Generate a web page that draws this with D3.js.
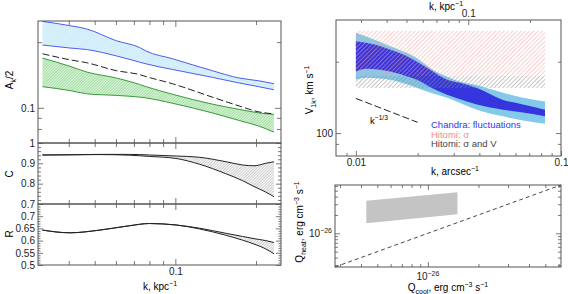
<!DOCTYPE html>
<html><head><meta charset="utf-8">
<script src="https://cdn.jsdelivr.net/npm/d3@7"></script>
<style>
body{margin:0;background:#fff}
text{font-family:"Liberation Sans",Arial,sans-serif}
</style>
</head><body><script>
// ---- left column: amplitude, coherence, ratio vs k (kpc^-1)
let kA = [0.0319, 0.0404, 0.0466, 0.0602, 0.0735, 0.0778, 0.0974, 0.1373, 0.173, 0.205, 0.2333];
let blueHi = [0.249, 0.238, 0.230, 0.203, 0.189, 0.182, 0.168, 0.148, 0.137, 0.133, 0.129];
let blueLo = [0.194, 0.188, 0.185, 0.173, 0.162, 0.159, 0.150, 0.138, 0.130, 0.125, 0.121];
let dashA = [0.177, 0.166, 0.161, 0.148, 0.142, 0.139, 0.129, 0.112, 0.102, 0.0958, 0.0938];
let greenHi = [0.169, 0.155, 0.146, 0.137, 0.128, 0.125, 0.1155, 0.104, 0.0984, 0.0948, 0.0933];
let greenLo = [0.125, 0.120, 0.116, 0.114, 0.112, 0.111, 0.105, 0.0948, 0.0875, 0.0825, 0.0774];

let kC = [0.0319, 0.0404, 0.0522, 0.0675, 0.080, 0.1006, 0.1228, 0.1543, 0.178, 0.1966, 0.2175, 0.2334];
let cHi = [0.941, 0.942, 0.944, 0.944, 0.941, 0.936, 0.930, 0.908, 0.892, 0.888, 0.900, 0.908];
let cLo = [0.941, 0.942, 0.943, 0.940, 0.934, 0.924, 0.896, 0.849, 0.815, 0.786, 0.759, 0.736];
let rHi = [0.643, 0.632, 0.643, 0.661, 0.670, 0.664, 0.651, 0.630, 0.617, 0.608, 0.600, 0.592];
let rLo = [0.643, 0.632, 0.643, 0.661, 0.670, 0.664, 0.648, 0.622, 0.602, 0.586, 0.566, 0.546];

// ---- right top: velocity vs k (arcsec^-1)
let kV = [0.0100, 0.01132, 0.01309, 0.01465, 0.01834, 0.01985, 0.02375, 0.02779, 0.03216, 0.03892, 0.05213, 0.06526, 0.08356];
let lightHi = [265, 255, 243, 233, 215, 207, 185, 173, 165, 159, 148, 141, 136];
let lightLo = [168, 171, 170, 168, 159, 155, 147, 141, 134, 125.5, 117.6, 113, 109.5];
let darkHi = [244, 240, 233, 225, 208, 200, 182, 168, 163, 155, 138, 132, 125.5];
let darkLo = [182, 187, 185, 182, 172, 168, 154, 145, 139, 132, 125.5, 122, 117.6];
let hitomiK = [0.01, 0.0836];
let hitomiSigma = [174, 270];
let hitomiSigmaV = [155, 174];
let slopeK = [0.01, 0.02];
let slopeV = [140, 111];
let kpcPerArcsec = 0.353;

// ---- right bottom: heating vs cooling
let qCool = [0.43e-26, 1.5e-26];
let qHeatHi = [3.42e-26, 4.70e-26];
let qHeatLo = [1.46e-26, 2.05e-26];
let eqLine = [0.28e-26, 6.2e-26];

let svg = d3.select('body').append('svg').attr('width', 568).attr('height', 294);
let defs = svg.append('defs');

function hatch(id, bg, col, size, w) {
  let p = defs.append('pattern').attr('id', id).attr('patternUnits', 'userSpaceOnUse')
    .attr('width', size).attr('height', size).attr('patternTransform', 'rotate(45)');
  if (bg) p.append('rect').attr('width', size).attr('height', size).attr('fill', bg);
  p.append('line').attr('x1', 0).attr('y1', 0).attr('x2', 0).attr('y2', size)
    .attr('stroke', col).attr('stroke-width', w);
}
hatch('hBlue', '#e4f5fc', '#a9dcf1', 2, 1);
hatch('hGreen', '#dcf4dc', '#6cc86c', 2, 1);
hatch('hGray', '#ffffff', '#8a8a8a', 2, 0.9);
hatch('hRed', null, '#f5a0a0', 3, 1);
hatch('hGray2', null, '#8c8c8c', 3, 1);
hatch('hDark', '#3a3aea', '#2222b8', 2, 0.9);

let frameCol = '#555';

function axis(orient, scale, vals, len, tr, labels) {
  let ax = orient(scale).tickValues(vals).tickSize(-len).tickSizeOuter(0).tickPadding(3)
    .tickFormat((d, i) => labels ? labels[i] : '');
  let g = svg.append('g').attr('transform', tr).call(ax);
  g.select('.domain').remove();
  g.selectAll('line').attr('stroke', frameCol).attr('stroke-width', 0.8);
  g.selectAll('text').attr('font-family', '"Liberation Serif",serif')
    .attr('font-size', 10).attr('fill', '#222');
  return g;
}
function frame(x0, y0, x1, y1) {
  svg.append('rect').attr('x', x0).attr('y', y0).attr('width', x1 - x0).attr('height', y1 - y0)
    .attr('fill', 'none').attr('stroke', frameCol).attr('stroke-width', 1);
}
// text with sub/superscript parts: [string, 'sub'|'sup'|undefined]
function rich(t, parts) {
  let shift = 0;
  parts.forEach(([s, k]) => {
    let want = k == 'sub' ? 2.5 : k == 'sup' ? -4 : 0;
    let sp = t.append('tspan').attr('dy', want - shift).text(s);
    if (k) sp.attr('font-size', '70%');
    shift = want;
  });
  return t;
}
function label(x, y, rot, size, parts, extra) {
  let t = svg.append('text').attr('text-anchor', 'middle').attr('font-size', size)
    .attr('transform', `translate(${x},${y})` + (rot ? ' rotate(-90)' : ''));
  return rich(t, parts);
}

// ================= left column
let L = 38, R = 281;
let xk = d3.scaleLog().domain([0.0307, 0.248]).range([L, R]);
let yA = d3.scaleLog().domain([0.069, 0.25]).range([143, 21]);
let yC = d3.scaleLinear().domain([0.7, 1]).range([204, 143]);
let yR = d3.scaleLinear().domain([0.5, 0.75]).range([265, 204]);

let band = (xs, lo, hi, sx, sy) => d3.area().x((d, i) => sx(xs[i])).y0((d, i) => sy(lo[i])).y1((d, i) => sy(hi[i])).curve(d3.curveMonotoneX)(xs);
let line = (xs, ys, sx, sy) => d3.line().x((d, i) => sx(xs[i])).y((d, i) => sy(ys[i])).curve(d3.curveMonotoneX)(xs);

svg.append('path').attr('d', band(kA, blueLo, blueHi, xk, yA)).attr('fill', 'url(#hBlue)');
svg.append('path').attr('d', band(kA, greenLo, greenHi, xk, yA)).attr('fill', 'url(#hGreen)');
[blueHi, blueLo].forEach(s => svg.append('path').attr('d', line(kA, s, xk, yA)).attr('fill', 'none').attr('stroke', '#4f5cf0').attr('stroke-width', 1));
[greenHi, greenLo].forEach(s => svg.append('path').attr('d', line(kA, s, xk, yA)).attr('fill', 'none').attr('stroke', '#3a9a3a').attr('stroke-width', 1));
svg.append('path').attr('d', line(kA, dashA, xk, yA)).attr('fill', 'none').attr('stroke', '#222')
  .attr('stroke-width', 1).attr('stroke-dasharray', '7,3');

svg.append('path').attr('d', band(kC, cLo, cHi, xk, yC)).attr('fill', 'url(#hGray)');
[cHi, cLo].forEach(s => svg.append('path').attr('d', line(kC, s, xk, yC)).attr('fill', 'none').attr('stroke', '#222').attr('stroke-width', 1));
svg.append('path').attr('d', band(kC, rLo, rHi, xk, yR)).attr('fill', 'url(#hGray)');
[rHi, rLo].forEach(s => svg.append('path').attr('d', line(kC, s, xk, yR)).attr('fill', 'none').attr('stroke', '#222').attr('stroke-width', 1));

let kMinor = [0.04, 0.05, 0.06, 0.07, 0.08, 0.09, 0.2];
[[21, 143], [143, 204], [204, 265]].forEach(([t, b], i) => {
  axis(d3.axisTop, xk, kMinor, 4, `translate(0,${t})`);
  axis(d3.axisTop, xk, [0.1], 6, `translate(0,${t})`);
  axis(d3.axisBottom, xk, kMinor, 4, `translate(0,${b})`);
  axis(d3.axisBottom, xk, [0.1], 6, `translate(0,${b})`, i == 2 ? ['0.1'] : null);
});
[[d3.axisLeft, L, true], [d3.axisRight, R, false]].forEach(([o, x, lab]) => {
  let tr = `translate(${x},0)`;
  axis(o, yA, [0.08, 0.09, 0.2], 4, tr);
  axis(o, yA, [0.1], 6, tr, lab ? ['0.1'] : null);
  let cMaj = [0.7, 0.8, 0.9, 1], rMaj = [0.5, 0.55, 0.6, 0.65, 0.7];
  axis(o, yC, d3.range(36).map(i => 0.7 + i * 0.02).filter(v => v < 0.995 && Math.abs(v * 10 - Math.round(v * 10)) > 0.01), 3, tr);
  axis(o, yC, cMaj, 5, tr, lab ? ['0.7', '0.8', '0.9', '1'] : null);
  axis(o, yR, d3.range(25).map(i => 0.5 + i * 0.01).filter(v => Math.abs(v * 20 - Math.round(v * 20)) > 0.01), 2.5, tr);
  axis(o, yR, rMaj, 5, tr, lab ? ['0.5', '0.55', '0.6', '0.65', '0.7'] : null);
});
frame(L, 21, R, 143); frame(L, 143, R, 204); frame(L, 204, R, 265);

label(13, 80, true, 10, [['A'], ['k', 'sub'], ['/2']]);
label(13, 174, true, 10, [['C']]);
label(13, 234, true, 10, [['R']]);
label(160, 290, false, 10, [['k, kpc'], ['−1', 'sup']]);

// ================= right top
let VL = 336, VR = 561, VT = 20, VB = 156;
let xa = d3.scaleLog().domain([0.008, 0.1]).range([VL, VR]);
let xkpc = d3.scaleLog().domain([0.008 / kpcPerArcsec, 0.1 / kpcPerArcsec]).range([VL, VR]);
let yV = d3.scaleLog().domain([80, 300]).range([VB, VT]);

svg.append('path').attr('d', band(kV, lightLo, lightHi, xa, yV)).attr('fill', '#82c9ea');
svg.append('path').attr('d', band(kV, darkLo, darkHi, xa, yV)).attr('fill', 'url(#hDark)');
svg.append('rect').attr('x', xa(hitomiK[0])).attr('width', xa(hitomiK[1]) - xa(hitomiK[0]))
  .attr('y', yV(hitomiSigma[1])).attr('height', yV(hitomiSigma[0]) - yV(hitomiSigma[1])).attr('fill', 'url(#hRed)');
svg.append('rect').attr('x', xa(hitomiK[0])).attr('width', xa(hitomiK[1]) - xa(hitomiK[0]))
  .attr('y', yV(hitomiSigmaV[1])).attr('height', yV(hitomiSigmaV[0]) - yV(hitomiSigmaV[1])).attr('fill', 'url(#hGray2)');
svg.append('path').attr('d', d3.line().x((d, i) => xa(slopeK[i])).y((d, i) => yV(slopeV[i]))(slopeK))
  .attr('fill', 'none').attr('stroke', '#222').attr('stroke-width', 1).attr('stroke-dasharray', '7,3');
rich(svg.append('text').attr('x', 370).attr('y', 124).attr('font-size', 9.5), [['k'], ['−1/3', 'sup']]);

[['Chandra: fluctuations', '#2a3ce8', 128], ['Hitomi: σ', '#f58a8a', 137.5], ['Hitomi: σ and V', '#444', 147]].forEach(([t, c, y]) =>
  svg.append('text').attr('x', 431).attr('y', y).attr('font-size', 9.5).attr('fill', c).text(t));

axis(d3.axisBottom, xa, [0.009, 0.02, 0.03, 0.04, 0.05, 0.06, 0.07, 0.08, 0.09], 3, `translate(0,${VB})`);
axis(d3.axisBottom, xa, [0.01, 0.1], 5, `translate(0,${VB})`, ['0.01', '0.1']);
axis(d3.axisTop, xkpc, [0.03, 0.04, 0.05, 0.06, 0.07, 0.08, 0.09, 0.2], 3, `translate(0,${VT})`);
axis(d3.axisTop, xkpc, [0.1], 5, `translate(0,${VT})`, ['0.1']);
axis(d3.axisLeft, yV, [90, 200], 3, `translate(${VL},0)`);
axis(d3.axisLeft, yV, [100], 5, `translate(${VL},0)`, ['100']);
axis(d3.axisRight, yV, [90, 200], 3, `translate(${VR},0)`);
axis(d3.axisRight, yV, [100], 5, `translate(${VR},0)`);
frame(VL, VT, VR, VB);
label(446, 10, false, 10, [['k, kpc'], ['−1', 'sup']]);
label(455, 175, false, 10, [['k, arcsec'], ['−1', 'sup']]);
label(313, 90, true, 10, [['V'], ['1k', 'sub'], [', km s'], ['−1', 'sup']]);

// ================= right bottom
let QL = 335, QR = 561, QT = 185, QB = 267;
let xq = d3.scaleLog().domain([0.28e-26, 6.2e-26]).range([QL, QR]);
let yq = d3.scaleLog().domain([0.28e-26, 6.2e-26]).range([QB, QT]);
svg.append('path').attr('d', d3.area().x((d, i) => xq(qCool[i])).y0((d, i) => yq(qHeatLo[i])).y1((d, i) => yq(qHeatHi[i]))(qCool))
  .attr('fill', '#c4c4c4');
svg.append('path').attr('d', d3.line().x(d => xq(d)).y(d => yq(d))(eqLine))
  .attr('fill', 'none').attr('stroke', '#333').attr('stroke-width', 0.9).attr('stroke-dasharray', '4,3');
let qMinor = [0.3, 0.4, 0.5, 0.6, 0.7, 0.8, 0.9, 2, 3, 4, 5, 6].map(v => v * 1e-26);
axis(d3.axisBottom, xq, qMinor, 3, `translate(0,${QB})`);
axis(d3.axisBottom, xq, [1e-26], 5, `translate(0,${QB})`, ['']);
axis(d3.axisTop, xq, qMinor, 3, `translate(0,${QT})`);
axis(d3.axisTop, xq, [1e-26], 5, `translate(0,${QT})`);
axis(d3.axisLeft, yq, qMinor, 3, `translate(${QL},0)`);
axis(d3.axisLeft, yq, [1e-26], 5, `translate(${QL},0)`);
axis(d3.axisRight, yq, qMinor, 3, `translate(${QR},0)`);
axis(d3.axisRight, yq, [1e-26], 5, `translate(${QR},0)`);
frame(QL, QT, QR, QB);
// power-of-ten tick labels
rich(svg.append('text').attr('x', xq(1e-26)).attr('y', QB + 13).attr('text-anchor', 'middle')
  .attr('font-family', '"Liberation Serif",serif').attr('font-size', 10).attr('fill', '#222'), [['10'], ['−26', 'sup']]);
rich(svg.append('text').attr('x', QL - 3).attr('y', yq(1e-26) + 3.5).attr('text-anchor', 'end')
  .attr('font-family', '"Liberation Serif",serif').attr('font-size', 10).attr('fill', '#222'), [['10'], ['−26', 'sup']]);
label(448, 291, false, 10, [['Q'], ['cool', 'sub'], [', erg cm'], ['−3', 'sup'], [' s'], ['−1', 'sup']]);
label(303, 222, true, 10, [['Q'], ['heat', 'sub'], [', erg cm'], ['−3', 'sup'], [' s'], ['−1', 'sup']]);
</script></body></html>
